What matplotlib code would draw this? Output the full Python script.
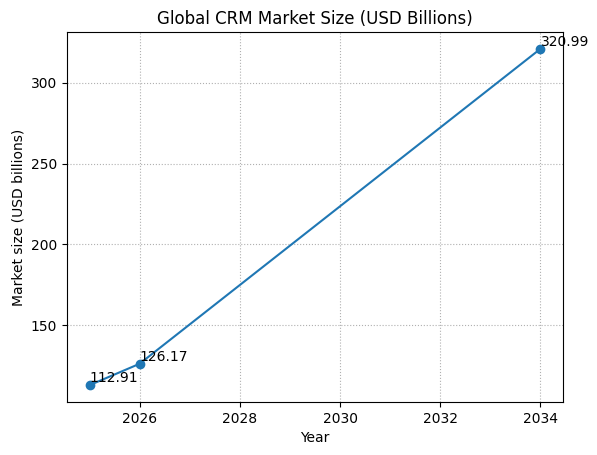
import matplotlib
matplotlib.use("Agg")
import matplotlib.pyplot as plt

# data
years = [2025, 2026, 2034]
market_size = [112.91, 126.17, 320.99]

fig, ax = plt.subplots(figsize=(5.97, 4.55), dpi=100)
fig.subplots_adjust(left=67 / 597, right=563 / 597, bottom=53 / 455, top=423 / 455)

ax.plot(years, market_size, marker='o')
for x, y in zip(years, market_size):
    ax.text(x, y, f'{y:.2f}', va='bottom')

ax.set_title('Global CRM Market Size (USD Billions)')
ax.set_xlabel('Year')
ax.set_ylabel('Market size (USD billions)')
ax.grid(True, linestyle=':')

fig.savefig('out.png', dpi=100)
